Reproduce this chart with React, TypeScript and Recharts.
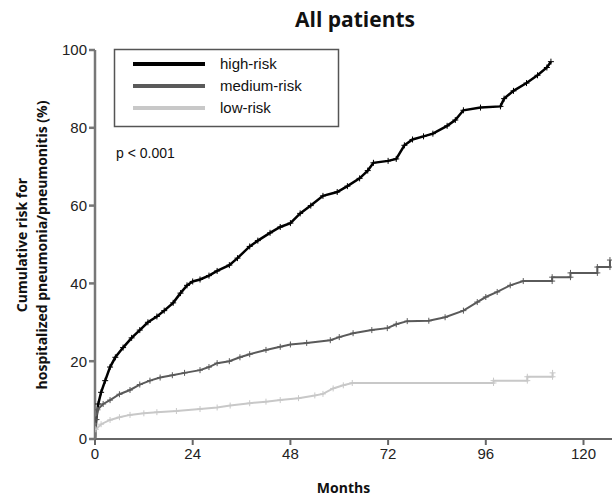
import { LineChart, Line, XAxis, YAxis } from 'recharts'

// [months, cumulative risk %]
const highRisk: [number, number][] = [
  [0, 0], [0.3, 5], [0.8, 9], [1.5, 12], [2.5, 15], [3.7, 18.5], [5, 21], [6.9, 23.5],
  [9, 26], [11, 28], [13, 30], [15.2, 31.5], [17, 33], [19.2, 35], [21, 37.5], [22.6, 39.5],
  [24, 40.5], [25.8, 41], [28, 42], [30, 43.2], [33, 44.7], [35, 46.5], [38, 49.5], [40, 51],
  [43, 53], [45.5, 54.5], [48, 55.5], [50.4, 58], [53, 60], [56, 62.5], [59.5, 63.5], [62, 65],
  [65, 67], [67, 69], [68.4, 71], [72, 71.5], [74, 72], [76, 75.5], [78, 77], [80.7, 77.8],
  [83, 78.5], [86.5, 80.5], [88.5, 82], [90.5, 84.5], [94.7, 85.2], [99.6, 85.5], [100.5, 87.5],
  [102.8, 89.5], [106, 91.5], [108.7, 93.5], [111, 95.5], [112, 97],
]

const mediumRisk: [number, number][] = [
  [0, 0], [0.3, 5], [0.6, 7.5], [2, 9], [3.7, 10], [6, 11.5], [8.6, 12.6], [11, 14],
  [13.5, 15], [16, 15.8], [19, 16.4], [22, 17], [25.8, 17.7], [28, 18.5], [30, 19.5], [33, 20],
  [35.6, 21], [38, 21.8], [42, 22.9], [45.5, 23.7], [48, 24.3], [52, 24.7], [57.8, 25.4],
  [60, 26.2], [63.4, 27.2], [68, 28], [71.8, 28.5], [74, 29.5], [76.7, 30.3], [82, 30.4],
  [86, 31.3], [90.5, 33], [93.9, 35.2], [96, 36.5], [98.8, 37.8], [102, 39.5], [105.2, 40.6],
  [112.3, 40.6], [112.3, 41.6], [116.8, 41.6], [116.8, 42.7], [123.4, 42.7], [123.4, 44.2],
  [126.5, 44.2], [126.5, 46],
]

const lowRisk: [number, number][] = [
  [0, 0], [0.2, 2.5], [1.5, 3.8], [3.7, 4.9], [6, 5.6], [8.6, 6.2], [12, 6.6], [15.2, 6.9],
  [20, 7.2], [25.8, 7.7], [30, 8.1], [33.2, 8.6], [38, 9.2], [42, 9.6], [45.5, 10], [50, 10.5],
  [54, 11.2], [56, 11.6], [58.5, 13], [61, 13.8], [63.2, 14.4], [97.9, 14.4], [97.9, 15],
  [106.2, 15], [106.2, 16], [112.4, 16], [112.4, 17],
]

const xTicks = [0, 24, 48, 72, 96, 120]
const yTicks = [0, 20, 40, 60, 80, 100]

const series = [
  { name: 'high-risk', points: highRisk, color: '#000000', width: 2.5 },
  { name: 'medium-risk', points: mediumRisk, color: '#5a5a5a', width: 2 },
  { name: 'low-risk', points: lowRisk, color: '#c8c8c8', width: 2 },
]

const toRows = (pts: [number, number][]) => pts.map(([m, v]) => ({ m, v }))

const makeCross = (color: string) => (props: any) => {
  const { cx, cy, index } = props
  if (index === 0 || cx == null || cy == null) return <g key={`c-${index}`} />
  return (
    <path
      key={`c-${index}`}
      d={`M${cx - 3},${cy}H${cx + 3}M${cx},${cy - 3}V${cy + 3}`}
      stroke={color}
      strokeWidth={1}
      fill="none"
    />
  )
}

const axisFont = { fontFamily: 'Liberation Sans, Arial, sans-serif', fontSize: 15, fill: '#222' }
const boldFont = { fontFamily: 'Open Sans, sans-serif', fontSize: 14, fontWeight: 700, fill: '#111' }

export default function App() {
  return (
    <div style={{ position: 'absolute', left: 0, top: 0, width: 612, height: 496, background: '#fff' }}>
      <LineChart width={612} height={496} margin={{ top: 50, right: 0, left: 0, bottom: 25 }}>
        <XAxis
          dataKey="m"
          type="number"
          domain={[0, 127]}
          ticks={xTicks}
          allowDataOverflow
          tick={axisFont}
          tickSize={6}
          tickMargin={3}
          stroke="#666"
          strokeWidth={2}
          height={32}
          label={{ value: 'Months', position: 'insideBottom', offset: -22, dx: -10, style: boldFont }}
        />
        <YAxis
          type="number"
          domain={[0, 100]}
          ticks={yTicks}
          tick={axisFont}
          tickSize={6}
          tickMargin={2}
          stroke="#777"
          strokeWidth={2.5}
          width={95}
        />
        {series.map((s) => (
          <Line
            key={s.name}
            name={s.name}
            data={toRows(s.points)}
            dataKey="v"
            type="linear"
            stroke={s.color}
            strokeWidth={s.width}
            dot={makeCross(s.color)}
            activeDot={false}
            isAnimationActive={false}
          />
        ))}
      </LineChart>
      <svg width={612} height={496} style={{ position: 'absolute', left: 0, top: 0, pointerEvents: 'none' }}>
        <text x={355} y={27} textAnchor="middle" style={{ ...boldFont, fontSize: 21 }}>
          All patients
        </text>
        <g transform="translate(0,245) rotate(-90)">
          <text x={0} y={27} textAnchor="middle" style={boldFont}>
            Cumulative risk for
          </text>
          <text x={0} y={47} textAnchor="middle" style={boldFont}>
            hospitalized pneumonia/pneumonitis (%)
          </text>
        </g>
        <rect x={114.5} y={49.5} width={224} height={77} fill="#fff" stroke="#555" strokeWidth={1.5} />
        {series.map((s, i) => (
          <g key={s.name}>
            <line x1={133} x2={205} y1={64 + i * 22} y2={64 + i * 22} stroke={s.color} strokeWidth={4} />
            <text x={220} y={69 + i * 22} style={{ ...axisFont, fill: '#111' }}>
              {s.name}
            </text>
          </g>
        ))}
        <text x={116} y={158} style={{ fontFamily: 'Liberation Sans, Arial, sans-serif', fontSize: 14, fill: '#111' }}>
          p &lt; 0.001
        </text>
      </svg>
    </div>
  )
}
